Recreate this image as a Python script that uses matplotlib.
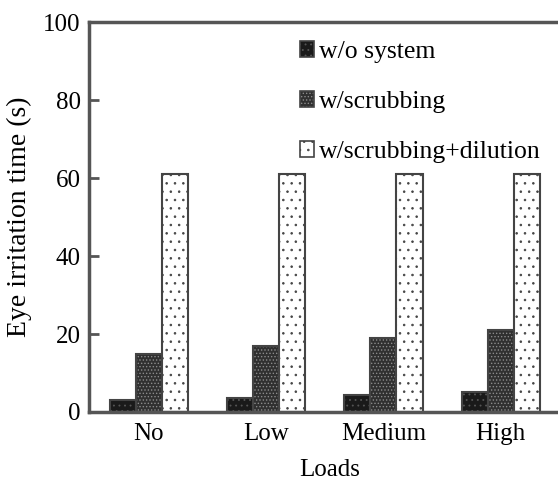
import numpy as np
import matplotlib
matplotlib.use('Agg')
import matplotlib.pyplot as plt
from matplotlib.patches import Patch

plt.rcParams['font.family'] = ['Liberation Serif', 'DejaVu Serif']
plt.rcParams['hatch.linewidth'] = 0.6

# data
loads = ['No', 'Low', 'Medium', 'High']
wo_system = [3, 3.5, 4.3, 5.2]
scrubbing = [15, 17, 19, 21]
scrub_dilution = [61, 61, 61, 61]
series_names = ['w/o system', 'w/scrubbing', 'w/scrubbing+dilution']

fig = plt.figure(figsize=(5.58, 4.91), dpi=100)
ax = fig.add_axes([0.1595, 0.1609, 0.864, 0.794])

x = np.arange(len(loads))
w = 0.222
spine_col = '#555555'

# (face, hatch, hatch colour)
styles = [('#1a1a1a', '...', '#555555'),
          ('#303030', '.....', '#8c8c8c'),
          ('white', '..', '#444444')]

handles = []
for i, (vals, (fc, hatch, hc)) in enumerate(zip([wo_system, scrubbing, scrub_dilution], styles)):
    pos = x + (i - 1) * w
    ax.bar(pos, vals, w, color=fc, edgecolor=hc, hatch=hatch, linewidth=0)
    ax.bar(pos, vals, w, fill=False, edgecolor='#444444', linewidth=1.5)
    handles.append((Patch(facecolor=fc, edgecolor=hc, hatch=hatch, linewidth=0),
                    Patch(fill=False, edgecolor='#444444', linewidth=1.2)))

ax.set_xlim(-0.511, 3.6)
ax.set_ylim(0, 100)
ax.set_xticks(x)
ax.set_xticklabels(loads, fontsize=18)
ax.set_yticks([0, 20, 40, 60, 80, 100])
ax.tick_params(axis='y', labelsize=18, direction='in', length=7, width=2, color=spine_col, pad=6)
ax.tick_params(axis='x', length=0, pad=8)
for s in ['left', 'bottom', 'top']:
    ax.spines[s].set_color(spine_col)
    ax.spines[s].set_linewidth(2.5)
ax.spines['right'].set_visible(False)

ax.set_ylabel('Eye irritation time (s)', fontsize=20, labelpad=8)
ax.set_xlabel('Loads', fontsize=18, labelpad=10)

ax.legend(handles, series_names, loc='upper left', bbox_to_anchor=(0.537, 0.917),
          bbox_transform=fig.transFigure, frameon=False, fontsize=18.5,
          handlelength=0.55, handleheight=0.6, handletextpad=0.2, labelspacing=1.08,
          borderaxespad=0, borderpad=0)

fig.savefig('out.png', dpi=100)
